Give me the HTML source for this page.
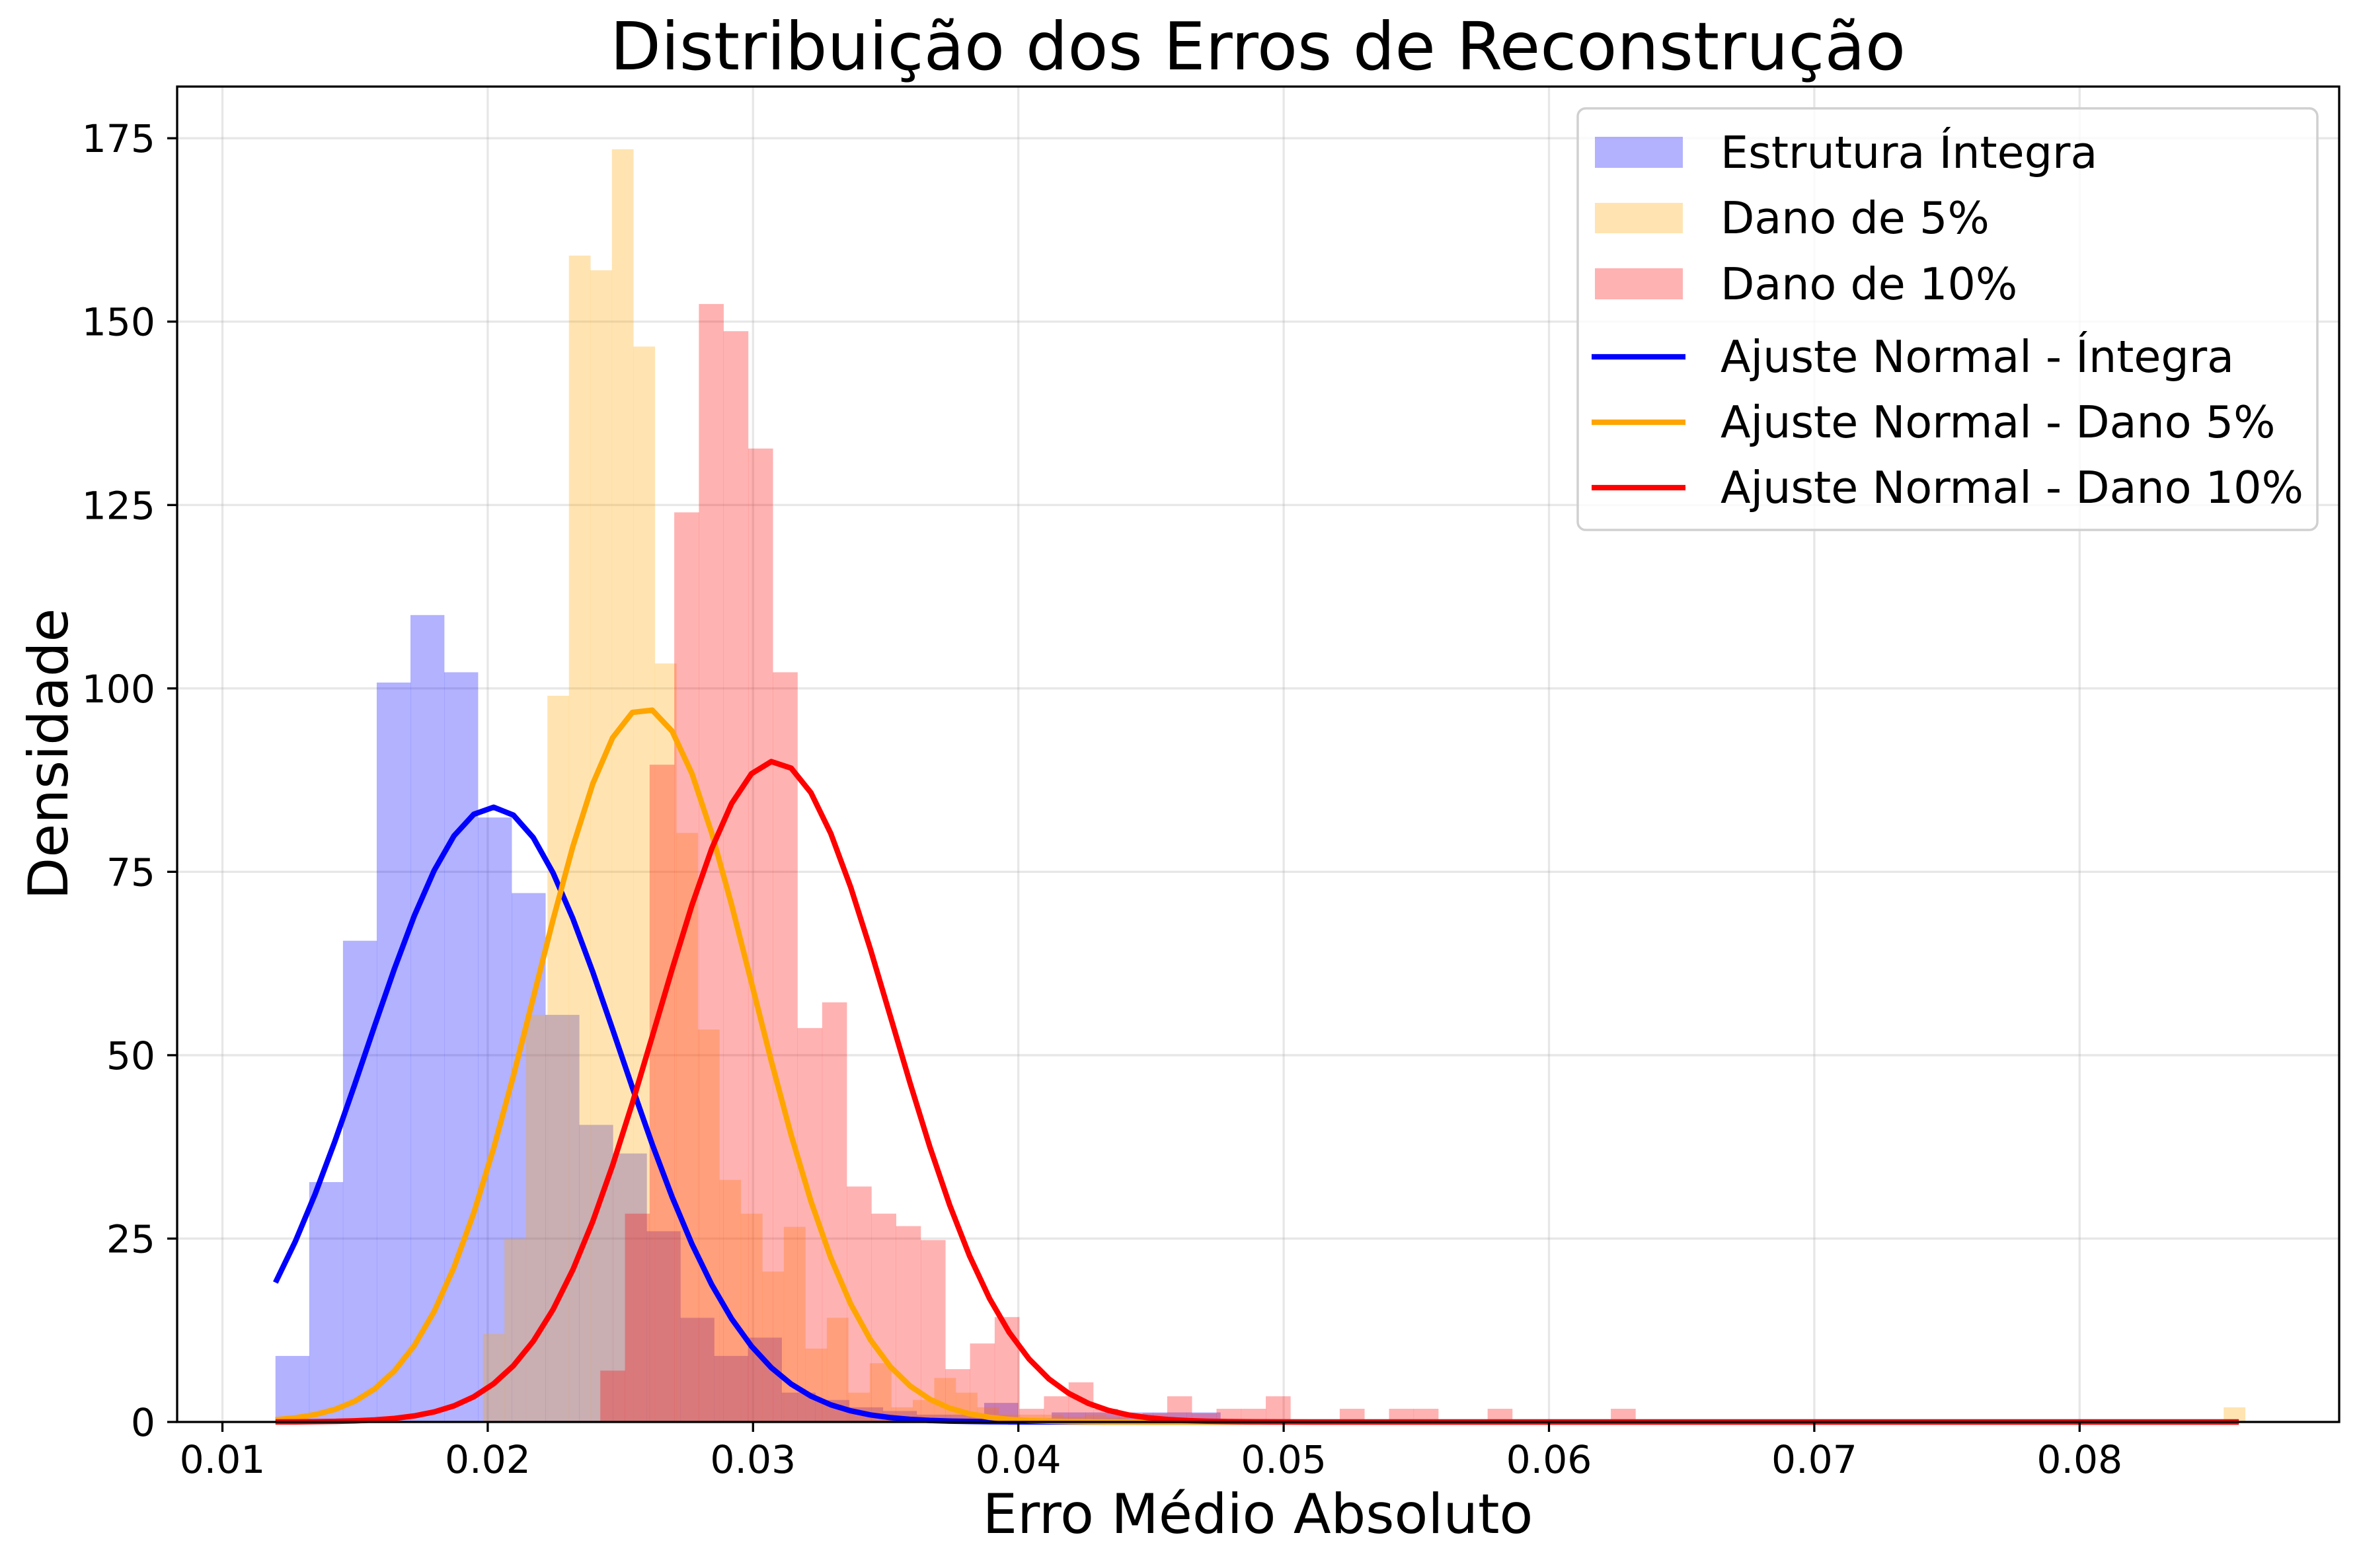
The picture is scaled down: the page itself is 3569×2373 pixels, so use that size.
<!DOCTYPE html>
<html><head><meta charset="utf-8"><style>
html,body{margin:0;padding:0;background:#fff;}
svg text{font-family:"DejaVu Sans","Liberation Sans",sans-serif;}
</style></head><body>
<svg id="chart" width="3569" height="2368" viewBox="0 0 3569 2368" xmlns="http://www.w3.org/2000/svg">
<rect width="3569" height="2368" fill="#fff"/>
<g id="grid"></g>
<g id="bars"></g>
<g id="curves"></g>
<g id="axes"></g>
<text x="1903" y="105" font-size="100" text-anchor="middle">Distribuição dos Erros de Reconstrução</text>
<text x="1903" y="2320" font-size="83" text-anchor="middle">Erro Médio Absoluto</text>
<text x="0" y="0" font-size="83" text-anchor="middle" transform="translate(102,1141) rotate(-90)">Densidade</text>
<g id="legend">
<rect x="2387" y="164" width="1119" height="638" rx="12" fill="#fff" fill-opacity="0.8" stroke="#d0d0d0" stroke-width="3.5"/>
<g><rect x="2413" y="207" width="133" height="47" fill="#0000ff" fill-opacity="0.3"/><text x="2603" y="254" font-size="66.7">Estrutura Íntegra</text></g>
<g><rect x="2413" y="307" width="133" height="46" fill="#ffa500" fill-opacity="0.3"/><text x="2603" y="353" font-size="66.7">Dano de 5%</text></g>
<g><rect x="2413" y="406" width="133" height="47" fill="#ff0000" fill-opacity="0.3"/><text x="2603" y="453" font-size="66.7">Dano de 10%</text></g>
<g><line x1="2408" x2="2550" y1="540" y2="540" stroke="#0000ff" stroke-width="8.3"/><text x="2603" y="563" font-size="66.7">Ajuste Normal - Íntegra</text></g>
<g><line x1="2408" x2="2550" y1="639" y2="639" stroke="#ffa500" stroke-width="8.3"/><text x="2603" y="662" font-size="66.7">Ajuste Normal - Dano 5%</text></g>
<g><line x1="2408" x2="2550" y1="738" y2="738" stroke="#ff0000" stroke-width="8.3"/><text x="2603" y="761" font-size="66.7">Ajuste Normal - Dano 10%</text></g>
</g>
</svg>
<script>
const xTicks = [0.01,0.02,0.03,0.04,0.05,0.06,0.07,0.08];
const xTickLabels = ["0.01","0.02","0.03","0.04","0.05","0.06","0.07","0.08"];
const yTicks = [0,25,50,75,100,125,150,175];
const yTickLabels = ["0","25","50","75","100","125","150","175"];
const seriesNames = ["integra","dano5","dano10"];
const seriesColors = ["#0000ff","#ffa500","#ff0000"];
const binStarts = [0.012,0.01982,0.024243];
const binWidths = [0.001272,0.00081,0.000929];
const integraHeights = [9,32.7,65.6,100.8,110,102.2,82.4,72.1,55.5,40.5,36.6,26,14.2,9,11.5,4,3,2,1.5,1,1,2.6,0.5,1.3,1.3,1.3,1.3,1.3];
const dano5Heights = [12,25,55.5,99,159,157,173.5,146.6,103.4,80.3,53.5,33,28.4,20.5,26.6,10,14.2,4,8,2,3,6,4,2,1,1,1,0.7,1,0.7,0,0,0,0,0,0,0,0,0,0,0,0,0,0,0,0,0,0,0,0,0,0,0,0,0,0,0,0,0,0,0,0,0,0,0,0,0,0,0,0,0,0,0,0,0,0,0,0,0,0,0,2];
const dano10Heights = [7,28.4,89.6,124,152.4,148.7,132.7,102.2,53.7,57.2,32.1,28.4,26.7,24.8,7.2,10.7,14.3,1.8,3.5,5.4,1.8,1,1.2,3.5,1.2,1.8,1.8,3.5,0,0,1.8,0,1.8,1.8,0,0,1.8,0,0,0,0,1.8];
const fitMeans = [0.0202,0.0259,0.0308];
const fitSigmas = [0.00476,0.0041,0.00443];
const fitRange = [0.012,0.086];

const NS="http://www.w3.org/2000/svg";
const L=268,R=3539,T=131,B=2152;
const xs=v=>336.5+(v-0.01)*40140;
const ys=v=>B-v*(2151.6-208.8)/175;
function mk(tag,attrs,parent){const e=document.createElementNS(NS,tag);for(const k in attrs)e.setAttribute(k,attrs[k]);parent.appendChild(e);return e;}
const grid=document.getElementById('grid'),bars=document.getElementById('bars'),curves=document.getElementById('curves'),axes=document.getElementById('axes');
xTicks.forEach((t,i)=>{
  const g=mk('line',{x1:xs(t),x2:xs(t),y1:T,y2:B,stroke:'#b0b0b0','stroke-opacity':0.3,'stroke-width':3.3},grid);
  
  
  const tk=mk('line',{x1:xs(t),x2:xs(t),y1:B,y2:B+15,stroke:'#000','stroke-width':3.3},axes);
  
  
  const tx=mk('text',{x:xs(t),y:B+77,'font-size':58.3,'text-anchor':'middle'},axes);
  tx.textContent=xTickLabels[i];
  
  
});
yTicks.forEach((t,i)=>{
  const g=mk('line',{x1:L,x2:R,y1:ys(t),y2:ys(t),stroke:'#b0b0b0','stroke-opacity':0.3,'stroke-width':3.3},grid);
  
  
  const tk=mk('line',{x1:L-15,x2:L,y1:ys(t),y2:ys(t),stroke:'#000','stroke-width':3.3},axes);
  
  
  const tx=mk('text',{x:L-33,y:ys(t)+21,'font-size':58.3,'text-anchor':'end'},axes);
  tx.textContent=yTickLabels[i];
  
  
});
const allHeights=[integraHeights,dano5Heights,dano10Heights];
allHeights.forEach((hs,s)=>{
  hs.forEach((h,i)=>{
    if(h<=0)return;
    const x0=xs(binStarts[s]+i*binWidths[s]),x1=xs(binStarts[s]+(i+1)*binWidths[s]);
    const r=mk('rect',{x:x0,y:ys(h),width:x1-x0+0.3,height:B-ys(h),fill:seriesColors[s],'fill-opacity':0.3},bars);
    
    
  });
});
fitMeans.forEach((mu,s)=>{
  const sg=fitSigmas[s];const pts=[];
  for(let i=0;i<100;i++){
    const x=fitRange[0]+(fitRange[1]-fitRange[0])*i/99;
    const y=Math.exp(-0.5*((x-mu)/sg)**2)/(sg*Math.sqrt(2*Math.PI));
    pts.push(xs(x).toFixed(1)+','+ys(y).toFixed(1));
  }
  const p=mk('polyline',{points:pts.join(' '),fill:'none',stroke:seriesColors[s],'stroke-width':8.3,'stroke-linejoin':'round'},curves);
  
  
});
const fr=mk('rect',{x:L,y:T,width:R-L,height:B-T,fill:'none',stroke:'#000','stroke-width':3.3},axes);


</script>
</body></html>
